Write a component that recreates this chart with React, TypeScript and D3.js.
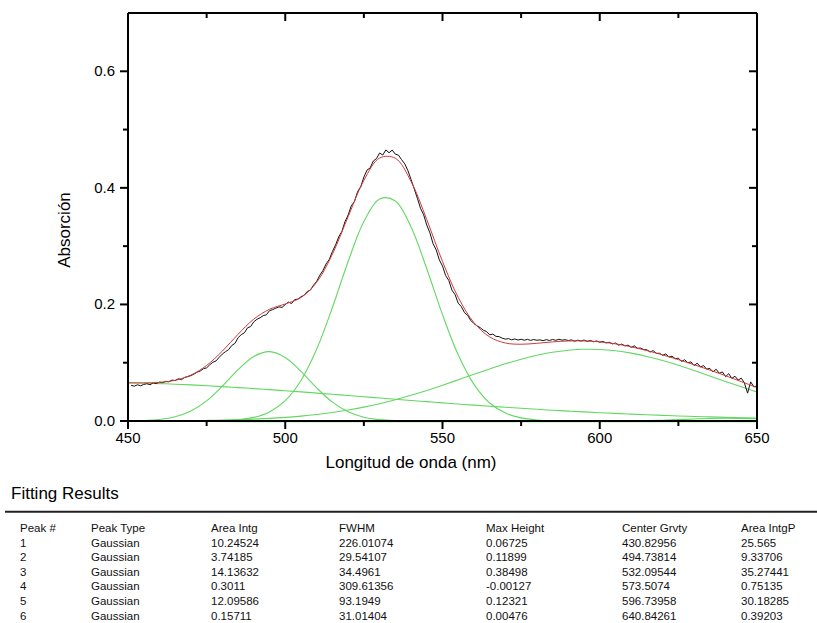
import React from 'react';
import * as d3 from 'd3';

// ---------- Data ----------
const xTicksMajor = [450, 500, 550, 600, 650];
const xTicksMinor = [475, 525, 575, 625];
const yTicksMajor = [0.0, 0.2, 0.4, 0.6];
const yTicksMinor = [0.1, 0.3, 0.5];

// measured spectrum (1 nm steps starting at 451 nm)
const dataStart = 451;
const dataStep = 1;
const absorbance = [
  0.0612,0.0598,0.0621,0.0605,0.0626,0.0640,0.0622,0.0655,0.0641,0.0668,
  0.0659,0.0681,0.0672,0.0702,0.0694,0.0725,0.0709,0.0748,0.0762,0.0779,
  0.0806,0.0838,0.0859,0.0898,0.0912,0.0965,0.1008,0.1031,0.1092,0.1148,
  0.1190,0.1225,0.1296,0.1331,0.1429,0.1481,0.1513,0.1598,0.1621,0.1702,
  0.1745,0.1771,0.1808,0.1822,0.1893,0.1911,0.1935,0.1958,0.1949,0.1998,
  0.2041,0.2015,0.2083,0.2091,0.2130,0.2158,0.2222,0.2245,0.2331,0.2395,
  0.2502,0.2583,0.2696,0.2771,0.2908,0.3021,0.3158,0.3252,0.3421,0.3534,
  0.3692,0.3765,0.3935,0.4018,0.4185,0.4305,0.4342,0.4461,0.4502,0.4598,
  0.4563,0.4651,0.4602,0.4648,0.4579,0.4561,0.4483,0.4412,0.4296,0.4143,
  0.3984,0.3822,0.3651,0.3538,0.3362,0.3228,0.3041,0.2935,0.2764,0.2658,
  0.2495,0.2412,0.2245,0.2168,0.2021,0.1962,0.1858,0.1812,0.1725,0.1671,
  0.1632,0.1601,0.1558,0.1535,0.1478,0.1491,0.1452,0.1447,0.1421,0.1405,
  0.1413,0.1392,0.1408,0.1389,0.1402,0.1386,0.1401,0.1383,0.1398,0.1385,
  0.1392,0.1378,0.1396,0.1381,0.1399,0.1384,0.1402,0.1387,0.1395,0.1381,
  0.1392,0.1368,0.1386,0.1371,0.1389,0.1365,0.1382,0.1359,0.1374,0.1352,
  0.1366,0.1339,0.1351,0.1322,0.1338,0.1301,0.1319,0.1288,0.1302,0.1265,
  0.1289,0.1248,0.1251,0.1224,0.1221,0.1183,0.1208,0.1161,0.1162,0.1128,
  0.1151,0.1098,0.1112,0.1069,0.1078,0.1021,0.1052,0.0998,0.1015,0.0951,
  0.0992,0.0928,0.0951,0.0889,0.0903,0.0841,0.0889,0.0818,0.0842,0.0761,
  0.0812,0.0731,0.0768,0.0702,0.0735,0.0652,0.0478,0.0671,0.0585,0.0603,
];

// cumulative fit (5 nm steps, 450-650)
const fitStart = 450;
const fitStep = 5;
const fitValues = [
  0.0654,0.0653,0.0662,0.0698,0.0787,0.0953,0.1199,0.1488,0.1748,0.1917,
  0.2008,0.2119,0.2380,0.2863,0.3506,0.4129,0.4512,0.4508,0.4111,0.3455,
  0.2737,0.2120,0.1688,0.1443,0.1338,0.1317,0.1333,0.1357,0.1373,0.1374,
  0.1358,0.1324,0.1273,0.1209,0.1135,0.1053,0.0966,0.0874,0.0777,0.0676,
  0.0574,
];

// individual peaks (start wavelength, step, values)
const peak1Start = 450, peak1Step = 5;
const peak1 = [
  0.0659,0.0652,0.0642,0.0631,0.0619,0.0605,0.0590,0.0573,0.0556,0.0538,
  0.0519,0.0499,0.0479,0.0458,0.0437,0.0416,0.0394,0.0373,0.0352,0.0332,
  0.0311,0.0291,0.0272,0.0253,0.0235,0.0218,0.0201,0.0185,0.0170,0.0156,
  0.0142,0.0130,0.0118,0.0107,0.0096,0.0087,0.0078,0.0070,0.0063,0.0056,
  0.0050,
];
const peak2Start = 455, peak2Step = 5;
const peak2 = [0.0008,0.0026,0.0072,0.0170,0.0345,0.0597,0.0880,0.1108,0.1190,0.1090,0.0852,0.0568,0.0323,0.0157,0.0065,0.0023,0.0007];
const peak3Start = 480, peak3Step = 5;
const peak3 = [0.0007,0.0022,0.0062,0.0156,0.0349,0.0696,0.1234,0.1948,0.2737,0.3423,0.3810,0.3775,0.3329,0.2612,0.1825,0.1135,0.0628,0.0309,0.0136,0.0053,0.0018,0.0006];
const peak4Start = 450, peak4Step = 25;
const peak4 = [-0.00082,-0.00096,-0.00109,-0.00119,-0.00125,-0.00127,-0.00124,-0.00118,-0.00107];
const peak5Start = 475, peak5Step = 5;
const peak5 = [
  0.0011,0.0016,0.0023,0.0032,0.0045,0.0062,0.0084,0.0112,0.0146,0.0188,
  0.0238,0.0297,0.0365,0.0441,0.0524,0.0614,0.0707,0.0801,0.0893,0.0981,
  0.1060,0.1127,0.1179,0.1214,0.1231,0.1228,0.1206,0.1165,0.1108,0.1037,
  0.0955,0.0866,0.0772,0.0678,0.0586,0.0498,
];
const peak6Start = 600, peak6Step = 5;
const peak6 = [0.00004,0.00012,0.00031,0.0007,0.00136,0.00231,0.00339,0.00431,0.00475,0.00453,0.00374];

// table
const tableHeaders = ['Peak #', 'Peak Type', 'Area Intg', 'FWHM', 'Max Height', 'Center Grvty', 'Area IntgP'];
const peakNums = ['1', '2', '3', '4', '5', '6'];
const peakTypes = ['Gaussian', 'Gaussian', 'Gaussian', 'Gaussian', 'Gaussian', 'Gaussian'];
const areaIntg = ['10.24524', '3.74185', '14.13632', '0.3011', '12.09586', '0.15711'];
const fwhm = ['226.01074', '29.54107', '34.4961', '309.61356', '93.1949', '31.01404'];
const maxHeight = ['0.06725', '0.11899', '0.38498', '-0.00127', '0.12321', '0.00476'];
const centerGrvty = ['430.82956', '494.73814', '532.09544', '573.5074', '596.73958', '640.84261'];
const areaIntgP = ['25.565', '9.33706', '35.27441', '0.75135', '30.18285', '0.39203'];

// ---------- Layout ----------
const W = 817;
const H = 623;
const PL = 128, PR = 757, PT = 13, PB = 421;
const FONT = "'Liberation Sans', Arial, sans-serif";
const GREEN = '#62d862';
const RED = '#d03a3a';

const x = d3.scaleLinear().domain([450, 650]).range([PL, PR]);
const y = d3.scaleLinear().domain([0, 0.7]).range([PB, PT]);

const toPts = (start: number, step: number, vals: number[]) =>
  vals.map((v, i) => [start + i * step, v] as [number, number]);

const smooth = d3.line<[number, number]>()
  .x(d => x(d[0])).y(d => y(d[1]))
  .curve(d3.curveCatmullRom.alpha(0.5));
const raw = d3.line<[number, number]>()
  .x(d => x(d[0])).y(d => y(d[1]));

export default function App() {
  const peaks = [
    toPts(peak1Start, peak1Step, peak1),
    toPts(peak2Start, peak2Step, peak2),
    toPts(peak3Start, peak3Step, peak3),
    toPts(peak4Start, peak4Step, peak4),
    toPts(peak5Start, peak5Step, peak5),
    toPts(peak6Start, peak6Step, peak6),
  ];
  const dataPts = toPts(dataStart, dataStep, absorbance);
  const fitPts = toPts(fitStart, fitStep, fitValues);

  const colX = [20, 91, 211, 339, 486, 622, 741];
  const columns = [peakNums, peakTypes, areaIntg, fwhm, maxHeight, centerGrvty, areaIntgP];
  const headerY = 532;
  const rowH = 14.6;

  return (
    <svg width={W} height={H} style={{ position: 'absolute', left: 0, top: 0, background: '#fff' }}
      fontFamily={FONT}>
      <rect x={0} y={0} width={W} height={H} fill="#fff" />
      {/* curves */}
      <g fill="none">
        {peaks.map((p, i) => (
          <path key={i} d={smooth(p) || ''} stroke={GREEN} strokeWidth={1.1} />
        ))}
        <path d={raw(dataPts) || ''} stroke="#111" strokeWidth={1} />
        <path d={smooth(fitPts) || ''} stroke={RED} strokeWidth={1} />
      </g>

      {/* axes frame */}
      <g stroke="#000" strokeWidth={2} fill="none">
        <line x1={PL} x2={PR} y1={PB} y2={PB} />
        <line x1={PL} x2={PR} y1={PT} y2={PT} />
        <line x1={PL} x2={PL} y1={PT} y2={PB} />
        <line x1={PR} x2={PR} y1={PT} y2={PB} />
        {/* bottom ticks outward, top inward */}
        {xTicksMajor.map(t => (
          <g key={'xm' + t}>
            <line x1={x(t)} x2={x(t)} y1={PB} y2={PB + 8} />
            <line x1={x(t)} x2={x(t)} y1={PT} y2={PT + 8} />
          </g>
        ))}
        {xTicksMinor.map(t => (
          <g key={'xn' + t}>
            <line x1={x(t)} x2={x(t)} y1={PB} y2={PB + 5} />
            <line x1={x(t)} x2={x(t)} y1={PT} y2={PT + 5} />
          </g>
        ))}
        {/* left ticks outward, right inward */}
        {yTicksMajor.map(t => (
          <g key={'ym' + t}>
            <line x1={PL - 8} x2={PL} y1={y(t)} y2={y(t)} />
            <line x1={PR - 8} x2={PR} y1={y(t)} y2={y(t)} />
          </g>
        ))}
        {yTicksMinor.map(t => (
          <g key={'yn' + t}>
            <line x1={PL - 5} x2={PL} y1={y(t)} y2={y(t)} />
            <line x1={PR - 5} x2={PR} y1={y(t)} y2={y(t)} />
          </g>
        ))}
      </g>

      {/* tick labels */}
      <g fontSize={15} fill="#000">
        {xTicksMajor.map(t => (
          <text key={'xl' + t} x={x(t)} y={443} textAnchor="middle">{t}</text>
        ))}
        {yTicksMajor.map(t => (
          <text key={'yl' + t} x={115} y={y(t) + 5} textAnchor="end">{t.toFixed(1)}</text>
        ))}
      </g>

      {/* axis titles */}
      <text x={411} y={468} fontSize={17} textAnchor="middle" fill="#000">Longitud de onda (nm)</text>
      <text transform="translate(70,230) rotate(-90)" fontSize={17} textAnchor="middle" fill="#000">Absorción</text>

      {/* fitting results table */}
      <text x={11} y={499} fontSize={17} fill="#000">Fitting Results</text>
      <line x1={5} x2={W} y1={511.7} y2={511.7} stroke="#222" strokeWidth={2} />
      <g fontSize={11.5} fill="#111">
        {tableHeaders.map((h, i) => (
          <text key={'h' + i} x={colX[i]} y={headerY}>{h}</text>
        ))}
        {columns.map((col, ci) =>
          col.map((v, ri) => (
            <text key={'c' + ci + '-' + ri} x={colX[ci]} y={headerY + rowH * (ri + 1)}>{v}</text>
          ))
        )}
      </g>
    </svg>
  );
}
